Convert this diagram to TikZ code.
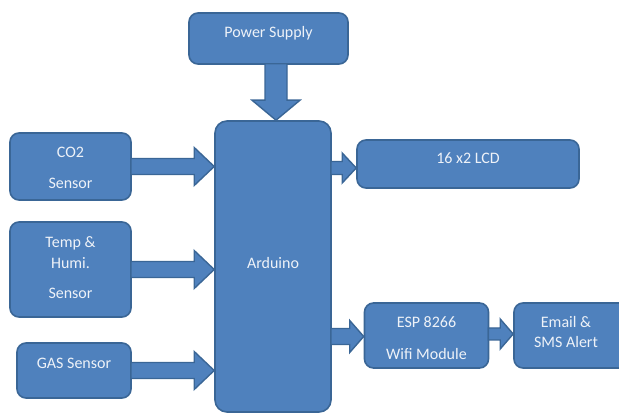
\documentclass[tikz,border=0pt]{standalone}
\usepackage{fontspec}
\setmainfont{Carlito}
\usetikzlibrary{calc}
\definecolor{boxfill}{HTML}{4F81BD}
\definecolor{boxline}{HTML}{3A6696}
\definecolor{txtcol}{HTML}{EEF2F8}
\tikzset{
  box/.style={draw=boxline, fill=boxfill, line width=1.6pt, rounded corners=9pt, inner sep=0pt},
  barrow/.style={draw=boxline, fill=boxfill, line width=1.4pt, line join=miter},
  txt/.style={text=txtcol, font=\fontsize{16}{19}\selectfont, anchor=base, inner sep=0pt, align=center}
}
\newcommand{\harrow}[5]{\draw[barrow] let \p1=(#1), \p2=(#2) in
 (\x1,\y1+#3) -- (\x2-#5,\y1+#3) -- (\x2-#5,\y1+#4) -- (\x2,\y1) -- (\x2-#5,\y1-#4) -- (\x2-#5,\y1-#3) -- (\x1,\y1-#3) -- cycle;}
\newcommand{\varrow}[5]{\draw[barrow] let \p1=(#1), \p2=(#2) in
 (\x1-#3,\y1) -- (\x1-#3,\y2+#5) -- (\x1-#4,\y2+#5) -- (\x1,\y2) -- (\x1+#4,\y2+#5) -- (\x1+#3,\y2+#5) -- (\x1+#3,\y1) -- cycle;}
\begin{document}
\begin{tikzpicture}[x=1pt,y=-1pt]
\useasboundingbox (0,0) rectangle (619,414);
% boxes
\node[box, minimum width=159pt, minimum height=51pt] (ps) at (268.5,38.5) {};
\node[box, minimum width=116pt, minimum height=291pt, rounded corners=12pt] (ard) at (273,266.5) {};
\node[box, minimum width=121pt, minimum height=67pt] (co2) at (70.5,166.5) {};
\node[box, minimum width=121pt, minimum height=95pt] (temp) at (70.5,269.5) {};
\node[box, minimum width=114pt, minimum height=55pt] (gas) at (74,370.5) {};
\node[box, minimum width=222pt, minimum height=48pt] (lcd) at (468,164) {};
\node[box, minimum width=124pt, minimum height=65pt] (esp) at (426.5,335.5) {};
\node[box, minimum width=114pt, minimum height=65pt] (email) at (571,335.5) {};
% arrows
\varrow{$(ps.south)+(7.5,-1)$}{ard.north}{11pt}{24pt}{20pt}
\harrow{$(co2.east)+(-1,0)$}{ard.west}{8pt}{19pt}{20pt}
\harrow{$(temp.east)+(-1,0)$}{ard.west}{8pt}{19pt}{20pt}
\harrow{$(gas.east)+(-1,0)$}{ard.west}{8pt}{19pt}{20pt}
\harrow{$(ard.east|-lcd.west)+(-1,4)$}{lcd.west}{6.5pt}{15pt}{14pt}
\harrow{$(ard.east|-esp.west)+(-1,1)$}{esp.west}{8pt}{16pt}{14pt}
\harrow{$(esp.east)+(-1,-1.5)$}{email.west}{6pt}{15pt}{13pt}
% texts
\node[txt] (ps-t) at (268.5,37.5) {Power Supply};
\node[txt] (ard-t) at (273,268.5) {Arduino};
\node[txt] (co2-t1) at (70.5,157.5) {CO2};
\node[txt] (co2-t2) at (70.5,188.5) {Sensor};
\node[txt] (temp-t1) at (70.5,247.5) {Temp \&};
\node[txt] (temp-t2) at (70.5,268.5) {Humi.};
\node[txt] (temp-t3) at (70.5,298.5) {Sensor};
\node[txt] (gas-t) at (74,368.5) {GAS Sensor};
\node[txt] (lcd-t) at (468,163.5) {16 x2 LCD};
\node[txt] (esp-t1) at (426.5,327.5) {ESP 8266};
\node[txt] (esp-t2) at (426.5,359.5) {Wifi Module};
\node[txt] (email-t1) at (566,327.5) {Email \&};
\node[txt] (email-t2) at (566,347.5) {SMS Alert};
\end{tikzpicture}
\end{document}
